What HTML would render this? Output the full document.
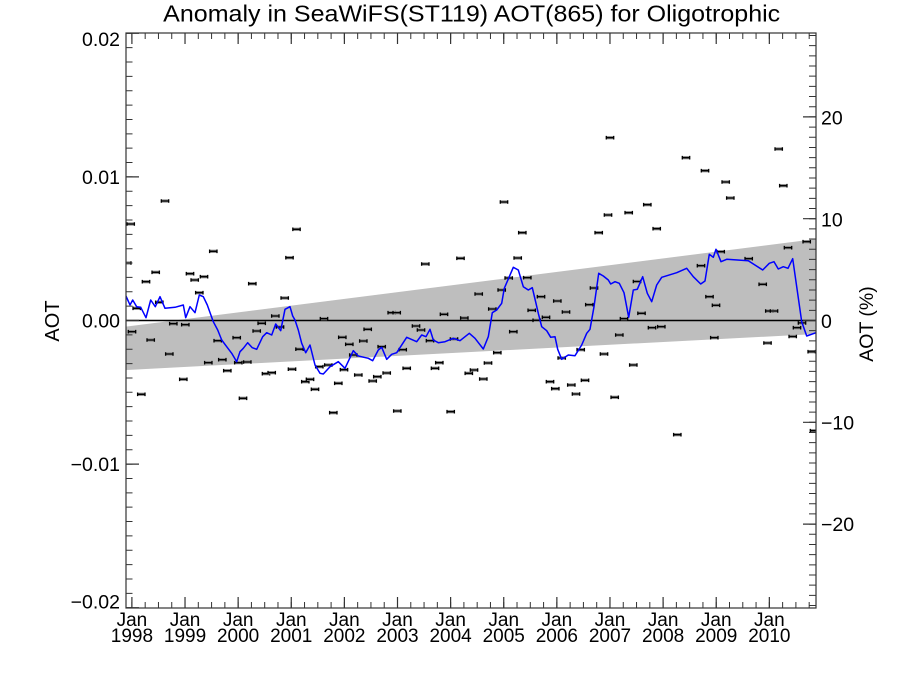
<!DOCTYPE html>
<html><head><meta charset="utf-8"><style>
html,body{margin:0;padding:0;background:#fff;}
svg{display:block;}
text{font-family:"Liberation Sans",Arial,Helvetica,sans-serif;fill:#000;}
</style></head><body>
<svg width="900" height="675" viewBox="0 0 900 675" xmlns="http://www.w3.org/2000/svg">
<defs>
<clipPath id="pa"><rect x="126" y="33" width="690" height="575"/></clipPath>
<g id="m"><rect x="-3.7" y="-1.6" width="7.4" height="3.2" fill="#888"/><path d="M-3.7 0H3.7M-3.7 -1.8V1.8M3.7 -1.8V1.8" stroke="#000" stroke-width="1.3" fill="none"/></g>
</defs>
<rect width="900" height="675" fill="#fff"/>

<text x="471.7" y="21.5" font-size="23" text-anchor="middle" textLength="617" lengthAdjust="spacingAndGlyphs">Anomaly in SeaWiFS(ST119) AOT(865) for Oligotrophic</text>

<g clip-path="url(#pa)">
<polygon points="126,326.6 816,239 816,334 126,370" fill="#bebebe"/>
<line x1="126" y1="320.5" x2="816" y2="320.5" stroke="#000" stroke-width="1.4"/>
<g>
<use href="#m" x="127.3" y="263"/><use href="#m" x="130.7" y="224"/><use href="#m" x="132" y="331.7"/><use href="#m" x="136.7" y="308.3"/>
<use href="#m" x="141.3" y="394.3"/><use href="#m" x="146" y="281.7"/><use href="#m" x="150.7" y="340"/><use href="#m" x="155.7" y="272.3"/>
<use href="#m" x="159.3" y="302.3"/><use href="#m" x="165" y="201"/><use href="#m" x="169.3" y="354"/><use href="#m" x="173.3" y="323.7"/>
<use href="#m" x="183.3" y="379.3"/><use href="#m" x="185.3" y="324.7"/><use href="#m" x="190" y="273.7"/><use href="#m" x="194.7" y="280"/>
<use href="#m" x="199.3" y="292.7"/><use href="#m" x="204" y="276.7"/><use href="#m" x="208.3" y="362.7"/><use href="#m" x="213.3" y="251.3"/>
<use href="#m" x="217.7" y="340.7"/><use href="#m" x="222.3" y="359.7"/><use href="#m" x="227.3" y="370.7"/><use href="#m" x="236.7" y="337.7"/>
<use href="#m" x="238.3" y="362.7"/><use href="#m" x="243" y="398.3"/><use href="#m" x="247.3" y="362"/><use href="#m" x="252.3" y="283.7"/>
<use href="#m" x="256.7" y="331"/><use href="#m" x="261.7" y="323.3"/><use href="#m" x="266" y="373.7"/><use href="#m" x="271.7" y="372.7"/>
<use href="#m" x="275.3" y="316"/><use href="#m" x="280" y="327"/><use href="#m" x="284.7" y="298"/><use href="#m" x="289.5" y="257.7"/>
<use href="#m" x="292" y="369.2"/><use href="#m" x="296.5" y="229.3"/><use href="#m" x="299.5" y="349.2"/><use href="#m" x="305.3" y="381.7"/>
<use href="#m" x="310" y="379.3"/><use href="#m" x="315" y="389.3"/><use href="#m" x="319.3" y="366.7"/><use href="#m" x="324" y="318.7"/>
<use href="#m" x="328.3" y="365"/><use href="#m" x="333.3" y="412.7"/><use href="#m" x="338.3" y="383.3"/><use href="#m" x="342.3" y="337.3"/>
<use href="#m" x="344" y="369.7"/><use href="#m" x="349.3" y="344.3"/><use href="#m" x="353.3" y="355"/><use href="#m" x="358.3" y="375"/>
<use href="#m" x="363.3" y="341"/><use href="#m" x="367.7" y="329.3"/><use href="#m" x="372.7" y="381"/><use href="#m" x="377.3" y="376.7"/>
<use href="#m" x="381.7" y="346.7"/><use href="#m" x="386.7" y="373"/><use href="#m" x="391.7" y="312.7"/><use href="#m" x="396.7" y="312.7"/>
<use href="#m" x="397.3" y="411"/><use href="#m" x="402.7" y="349.7"/><use href="#m" x="406.7" y="368.3"/><use href="#m" x="416" y="326"/>
<use href="#m" x="421" y="330"/><use href="#m" x="425.3" y="264"/><use href="#m" x="430" y="340.7"/><use href="#m" x="435" y="368.3"/>
<use href="#m" x="439.3" y="362.7"/><use href="#m" x="444" y="314.3"/><use href="#m" x="450.7" y="411.7"/><use href="#m" x="454" y="339"/>
<use href="#m" x="460.5" y="258.3"/><use href="#m" x="464.3" y="318"/><use href="#m" x="468.8" y="373.3"/><use href="#m" x="474" y="370"/>
<use href="#m" x="478.7" y="294"/><use href="#m" x="483.3" y="379"/><use href="#m" x="488" y="363"/><use href="#m" x="492.3" y="309"/>
<use href="#m" x="497.3" y="352.7"/><use href="#m" x="501.7" y="290"/><use href="#m" x="504" y="202"/><use href="#m" x="508.7" y="278"/>
<use href="#m" x="513.3" y="331.7"/><use href="#m" x="517.7" y="258"/><use href="#m" x="522.3" y="232.7"/><use href="#m" x="527.3" y="277.7"/>
<use href="#m" x="531.7" y="310.3"/><use href="#m" x="536.7" y="320.3"/><use href="#m" x="541" y="296.7"/><use href="#m" x="546" y="317.3"/>
<use href="#m" x="550" y="381.7"/><use href="#m" x="555.3" y="388.7"/><use href="#m" x="557.3" y="301"/><use href="#m" x="561.7" y="358"/>
<use href="#m" x="566" y="312"/><use href="#m" x="571.3" y="385"/><use href="#m" x="576" y="394"/><use href="#m" x="580.7" y="349.7"/>
<use href="#m" x="585" y="380.3"/><use href="#m" x="589.3" y="304.7"/><use href="#m" x="594" y="288"/><use href="#m" x="598.7" y="232.7"/>
<use href="#m" x="604" y="354"/><use href="#m" x="608" y="215"/><use href="#m" x="610" y="137.7"/><use href="#m" x="614.7" y="397.3"/>
<use href="#m" x="619.3" y="335"/><use href="#m" x="624" y="318.7"/><use href="#m" x="628.7" y="212.7"/><use href="#m" x="633.3" y="365"/>
<use href="#m" x="637" y="281.5"/><use href="#m" x="641.5" y="313.3"/><use href="#m" x="647.3" y="204.7"/><use href="#m" x="652" y="327.7"/>
<use href="#m" x="656.7" y="228.7"/><use href="#m" x="661.3" y="326.7"/><use href="#m" x="677.3" y="434.7"/><use href="#m" x="686" y="157.7"/>
<use href="#m" x="701" y="265.7"/><use href="#m" x="705" y="170.7"/><use href="#m" x="709.5" y="296.7"/><use href="#m" x="714.3" y="337.7"/>
<use href="#m" x="716" y="305.3"/><use href="#m" x="720.7" y="251.7"/><use href="#m" x="725.7" y="182"/><use href="#m" x="730.3" y="198"/>
<use href="#m" x="748.7" y="258.7"/><use href="#m" x="762.7" y="284.3"/><use href="#m" x="767.5" y="343"/><use href="#m" x="769.3" y="311"/>
<use href="#m" x="774" y="311"/><use href="#m" x="778.7" y="149"/><use href="#m" x="783.3" y="185.7"/><use href="#m" x="788" y="247.7"/>
<use href="#m" x="792.7" y="336.5"/><use href="#m" x="797" y="327.7"/><use href="#m" x="802" y="322.9"/><use href="#m" x="806.7" y="241.7"/>
<use href="#m" x="811.7" y="351.7"/><use href="#m" x="814" y="430.7"/>
</g>
<polyline fill="none" stroke="#0000ff" stroke-width="1.5" stroke-linejoin="round" points="126,296 130,305 132.7,300 136.7,306.7 140.7,307.3 146,317.7 150.7,300 155.3,306.7 160,296.7 165,308.3 170,307.7 175,307.3 183.3,305 185.7,317.7 190,306.7 195,312.7 199.3,295 203.3,296.7 207.3,305 213.3,321.7 217.7,330 221.7,340 226.7,346.7 231.7,353.3 236.7,361.7 240,351.7 243.3,348.3 247.7,342.7 252.3,347.7 256.7,349.3 262.7,336.7 266.7,332.7 271.7,335 275.7,324 280.7,330.7 285,309.3 290,306.7 292.7,316 295,320 298.3,330 301.7,343.3 305.7,352.7 310,345 315,365 320,373.3 323.3,374 330,366.7 338.3,361.7 345,368.3 353.3,350.7 358.3,356 368.3,358.3 372.7,360.7 378.3,350 381.7,347.3 386.7,359.3 391.7,354.3 396.7,352.7 406.7,337.3 416.7,341.7 421.7,335 426,336.7 430,329.3 433.3,340 438.3,342.7 445,341.7 453.3,338.3 460,340.7 469.3,333.3 475,338.3 483.3,349 488.3,336.7 492.3,312.7 496.7,310 501.7,303.3 504.3,288.3 509.3,276.7 513.3,267.3 518.3,270 523.3,286.7 528.3,290 532.3,287.7 536,303.3 538.3,313.3 541.7,326.7 546.7,330.7 550.7,337.3 555,336.7 557.7,349.3 561.7,359.3 568.3,355 575,355.7 581.7,345 586.7,333.3 590,329.3 594,306.7 598.7,273.3 603.3,276 608.3,280 610.7,284 615,281.7 619.3,283.3 624,292.7 628.7,317.3 633.3,290 637.3,289.3 642.7,276.7 647.3,293.3 651.7,301.7 656.7,285 661.7,277.3 676.7,272.7 686.7,268.3 693.3,276.7 700.7,284 705,281 709.3,254.3 713.3,257.3 716,249.3 721,261.7 726.7,259.3 748.3,260.7 762.7,270 769.3,263.3 774,261.7 778.3,269 783.3,266.7 788,268.3 792.7,258.7 801.7,321.7 806.7,336 816,332.7"/>
</g>

<!-- axes box -->
<rect x="126" y="33" width="690" height="575" fill="none" stroke="#333" stroke-width="1.2"/>

<!-- left minor ticks -->
<line x1="129.25" y1="32.8" x2="129.25" y2="608.5" stroke="#333" stroke-width="6.5" stroke-dasharray="1 13.36"/>
<!-- left major ticks -->
<path d="M126 33.3h13M126 176.9h13M126 320.5h13M126 464.1h13M126 607.7h13" stroke="#333" stroke-width="1.2"/>

<!-- right minor ticks -->
<line x1="812.5" y1="34.96" x2="812.5" y2="606.5" stroke="#333" stroke-width="7" stroke-dasharray="1 9.18"/>
<path d="M816 116.9h-13M816 218.7h-13M816 320.5h-13M816 422.3h-13M816 524.1h-13" stroke="#333" stroke-width="1.2"/>

<!-- bottom minor ticks -->
<line x1="131.4" y1="605" x2="816" y2="605" stroke="#333" stroke-width="6" stroke-dasharray="1 12.28"/>
<!-- top minor ticks -->
<line x1="131.4" y1="36" x2="816" y2="36" stroke="#333" stroke-width="6" stroke-dasharray="1 12.28"/>
<!-- major x ticks -->
<path stroke="#333" stroke-width="1.2" d="M131.9 608v-11M185.02 608v-11M238.14 608v-11M291.26 608v-11M344.38 608v-11M397.5 608v-11M450.62 608v-11M503.74 608v-11M556.86 608v-11M609.98 608v-11M663.1 608v-11M716.22 608v-11M769.34 608v-11
M131.9 33v11M185.02 33v11M238.14 33v11M291.26 33v11M344.38 33v11M397.5 33v11M450.62 33v11M503.74 33v11M556.86 33v11M609.98 33v11M663.1 33v11M716.22 33v11M769.34 33v11"/>

<!-- left tick labels -->
<g font-size="19.5" text-anchor="end">
<text x="120" y="46">0.02</text>
<text x="120" y="184">0.01</text>
<text x="120" y="327.5">0.00</text>
<text x="120" y="471">−0.01</text>
<text x="120" y="608.5">−0.02</text>
</g>
<!-- right tick labels -->
<g font-size="19.5" text-anchor="start">
<text x="821" y="124.5">20</text>
<text x="821" y="226.5">10</text>
<text x="821" y="328">0</text>
<text x="821" y="429.5">−10</text>
<text x="821" y="531">−20</text>
</g>
<!-- x labels -->
<g font-size="19" text-anchor="middle">
<text x="131.9" y="626">Jan</text><text x="131.9" y="642">1998</text>
<text x="185.02" y="626">Jan</text><text x="185.02" y="642">1999</text>
<text x="238.14" y="626">Jan</text><text x="238.14" y="642">2000</text>
<text x="291.26" y="626">Jan</text><text x="291.26" y="642">2001</text>
<text x="344.38" y="626">Jan</text><text x="344.38" y="642">2002</text>
<text x="397.5" y="626">Jan</text><text x="397.5" y="642">2003</text>
<text x="450.62" y="626">Jan</text><text x="450.62" y="642">2004</text>
<text x="503.74" y="626">Jan</text><text x="503.74" y="642">2005</text>
<text x="556.86" y="626">Jan</text><text x="556.86" y="642">2006</text>
<text x="609.98" y="626">Jan</text><text x="609.98" y="642">2007</text>
<text x="663.1" y="626">Jan</text><text x="663.1" y="642">2008</text>
<text x="716.22" y="626">Jan</text><text x="716.22" y="642">2009</text>
<text x="769.34" y="626">Jan</text><text x="769.34" y="642">2010</text>
</g>
<!-- axis titles -->
<text font-size="20" text-anchor="middle" transform="translate(59,321) rotate(-90)">AOT</text>
<text font-size="19.5" text-anchor="middle" transform="translate(873,324) rotate(-90)">AOT (%)</text>
</svg>
</body></html>
